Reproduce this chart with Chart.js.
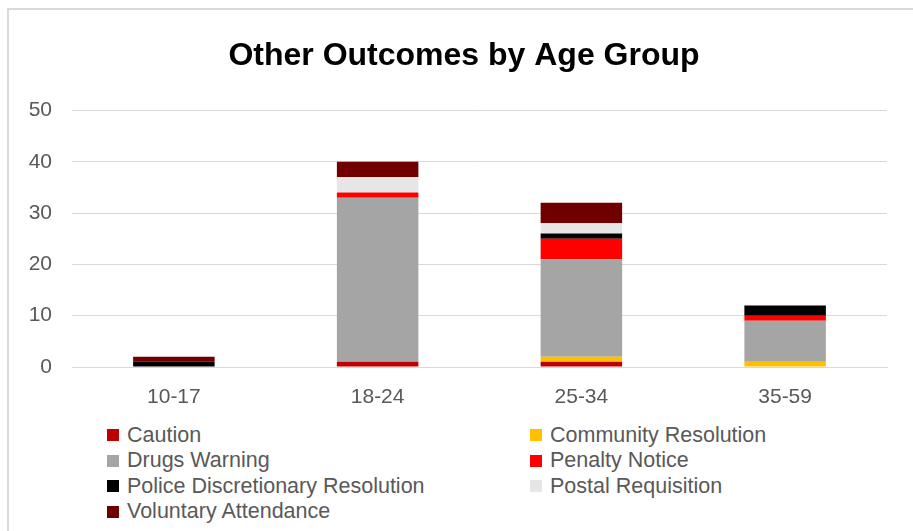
<!DOCTYPE html>
<html>
<head>
<meta charset="utf-8">
<script src="https://cdn.jsdelivr.net/npm/chart.js@4"></script>
<style>
  body { margin: 0; width: 913px; height: 531px; overflow: hidden; background: #fff; font-family: "Liberation Sans", Arial, sans-serif; }
  .frame { position: absolute; left: 7px; top: 8px; width: 1000px; height: 600px; border-top: 2px solid #d9d9d9; border-left: 2px solid #d9d9d9; }
  .chart-box { position: absolute; left: 0; top: 0; width: 928px; height: 420px; }
  .legend { position: absolute; left: 0; top: 0; }
  .legend .item { position: absolute; display: flex; align-items: center; font-size: 21.5px; color: #595959; white-space: nowrap; line-height: 1; }
  .legend .swatch { width: 12px; height: 12px; margin-right: 8px; }
</style>
</head>
<body>
<div class="frame"></div>
<div class="chart-box"><canvas id="outcomesChart"></canvas></div>
<div class="legend" id="legend"></div>
<script>
const ageGroups = ["10-17", "18-24", "25-34", "35-59"];
const caution = [0, 1, 1, 0];
const communityResolution = [0, 0, 1, 1];
const drugsWarning = [0, 32, 19, 8];
const penaltyNotice = [0, 1, 4, 1];
const policeDiscretionary = [1, 0, 1, 2];
const postalRequisition = [0, 3, 2, 0];
const voluntaryAttendance = [1, 3, 4, 0];
const yTicks = [0, 10, 20, 30, 40, 50];

const series = [
  { label: "Caution", data: caution, color: "#c00000" },
  { label: "Community Resolution", data: communityResolution, color: "#ffc000" },
  { label: "Drugs Warning", data: drugsWarning, color: "#a5a5a5" },
  { label: "Penalty Notice", data: penaltyNotice, color: "#ff0000" },
  { label: "Police Discretionary Resolution", data: policeDiscretionary, color: "#000000" },
  { label: "Postal Requisition", data: postalRequisition, color: "#e7e6e6" },
  { label: "Voluntary Attendance", data: voluntaryAttendance, color: "#700000" },
];

const tickFont = { family: "'Liberation Sans', Arial, sans-serif", size: 21 };

const ctx = document.getElementById("outcomesChart").getContext("2d");
new Chart(ctx, {
  type: "bar",
  data: {
    labels: ageGroups,
    datasets: series.map((s) => ({
      label: s.label,
      data: s.data,
      backgroundColor: s.color,
      borderWidth: 0,
      barPercentage: 0.4,
      categoryPercentage: 1,
    })),
  },
  options: {
    responsive: true,
    maintainAspectRatio: false,
    animation: false,
    layout: { padding: 0 },
    plugins: {
      legend: { display: false },
      tooltip: { enabled: false },
      title: {
        display: true,
        text: "Other Outcomes by Age Group",
        color: "#000",
        font: { family: "'Liberation Sans', Arial, sans-serif", size: 32, weight: "bold" },
        padding: { top: 37, bottom: 35 },
      },
    },
    scales: {
      x: {
        stacked: true,
        grid: { display: false, drawTicks: false },
        border: { display: true, color: "#d9d9d9", width: 1 },
        ticks: { color: "#595959", font: tickFont, padding: 18 },
        afterFit: (scale) => { scale.height = 53; },
      },
      y: {
        stacked: true,
        min: 0,
        max: 50,
        afterBuildTicks: (scale) => { scale.ticks = yTicks.map((v) => ({ value: v })); },
        grid: { color: "#d9d9d9", lineWidth: 1, drawTicks: false },
        border: { display: false },
        ticks: { color: "#595959", font: tickFont, padding: 20 },
        afterFit: (scale) => { scale.width = 72; },
      },
      // empty spacer on the right so the plot ends where the reference does
      spacer: {
        type: "linear",
        position: "right",
        grid: { display: false, drawTicks: false },
        border: { display: false },
        ticks: { display: false },
        afterFit: (scale) => { scale.width = 41; },
      },
    },
  },
});

// legend in two columns
const legend = document.getElementById("legend");
series.forEach((s, i) => {
  const item = document.createElement("div");
  item.className = "item";
  item.style.left = (i % 2 === 0 ? 107 : 530) + "px";
  item.style.top = (424.5 + Math.floor(i / 2) * 25.5) + "px";
  item.innerHTML = '<span class="swatch" style="background:' + s.color + '"></span>' + s.label;
  legend.appendChild(item);
});
</script>
</body>
</html>
